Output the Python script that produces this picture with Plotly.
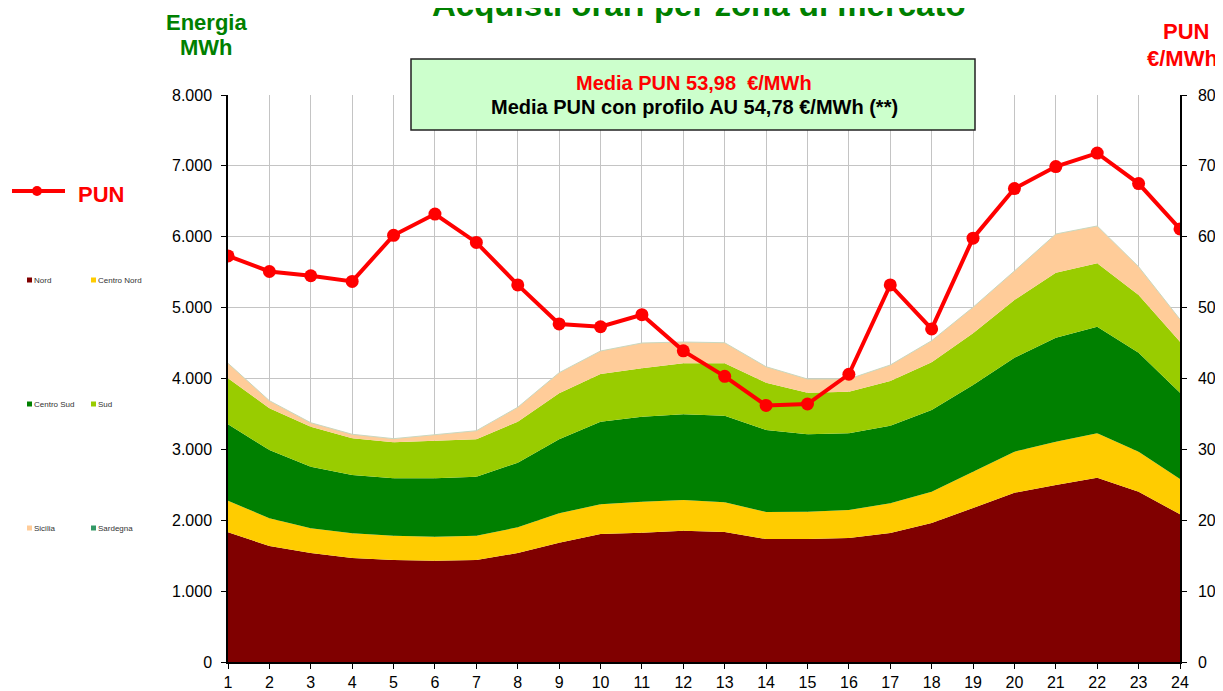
import plotly.graph_objects as go

hours = list(range(1, 25))
nord = [1830, 1637, 1538, 1467, 1439, 1429, 1439, 1538, 1683, 1806, 1824, 1853,
        1834, 1735, 1735, 1750, 1820, 1961, 2173, 2389, 2497, 2600, 2403, 2084]
centro_nord = [446, 391, 348, 349, 343, 339, 343, 362, 415, 419, 438, 433,
               419, 381, 386, 395, 419, 442, 512, 578, 611, 627, 564, 498]
centro_sud = [1078, 963, 870, 822, 810, 824, 832, 912, 1044, 1165, 1199, 1209,
              1222, 1157, 1092, 1082, 1095, 1153, 1223, 1326, 1468, 1504, 1397, 1218]
sud = [649, 589, 564, 518, 508, 530, 528, 578, 649, 673, 683, 719,
       739, 668, 587, 586, 631, 673, 730, 815, 917, 895, 814, 719]
sicilia = [212, 107, 56, 57, 51, 81, 121, 204, 291, 325, 357, 301,
           291, 225, 193, 180, 225, 304, 367, 409, 546, 526, 399, 316]
sardegna = [0] * 24
pun = [57.3, 55.1, 54.5, 53.7, 60.2, 63.2, 59.2, 53.2, 47.7, 47.3, 49.0, 43.9,
       40.3, 36.2, 36.4, 40.6, 53.2, 47.0, 59.8, 66.8, 69.9, 71.8, 67.5, 61.1]

zones = [("Nord", nord, "#800000"),
         ("Centro Nord", centro_nord, "#FFCC00"),
         ("Centro Sud", centro_sud, "#008000"),
         ("Sud", sud, "#99CC00"),
         ("Sicilia", sicilia, "#FFCC99"),
         ("Sardegna", sardegna, "#339966")]

OFF = 8  # page body offset
W, H = 1223 - OFF, 691 - OFF
# plot area in screen pixels
SL, SR, ST, SB = 228, 1180, 95, 662
L, R, T, B = SL - OFF, SR - OFF, ST - OFF, SB - OFF
FONT = "Liberation Sans, Arial, sans-serif"


def px(x):
    return (x - SL) / (SR - SL)


def py(y):
    return (SB - y) / (SB - ST)


fig = go.Figure()
for name, vals, col in zones:
    line_col = "#c8d8c0" if name == "Sardegna" else col
    fig.add_trace(go.Scatter(x=hours, y=vals, name=name, stackgroup="e",
                             mode="lines", fillcolor=col,
                             line=dict(color=line_col, width=1 if name == "Sardegna" else 0),
                             showlegend=False))
fig.add_trace(go.Scatter(x=hours, y=pun, name="PUN", yaxis="y2", mode="lines+markers",
                         line=dict(color="#FF0000", width=4),
                         marker=dict(color="#FF0000", size=13),
                         showlegend=False))

ann = []
shapes = []
ann.append(dict(text="<b>Acquisti orari per zona di mercato</b>", x=px(699), y=py(5),
                xanchor="center", yanchor="middle",
                font=dict(size=33, color="#008000", family=FONT)))
ann.append(dict(text="<b>Energia</b>", x=px(206), y=py(22), xanchor="center", yanchor="middle",
                font=dict(size=22, color="#008000", family=FONT)))
ann.append(dict(text="<b>MWh</b>", x=px(206), y=py(48), xanchor="center", yanchor="middle",
                font=dict(size=22, color="#008000", family=FONT)))
ann.append(dict(text="<b>PUN</b>", x=px(1186), y=py(31), xanchor="center", yanchor="middle",
                font=dict(size=22, color="#FF0000", family=FONT)))
ann.append(dict(text="<b>€/MWh</b>", x=px(1145), y=py(58), xanchor="left", yanchor="middle",
                font=dict(size=22, color="#FF0000", family=FONT)))
shapes.append(dict(type="rect", xref="paper", yref="paper", x0=px(411), x1=px(975),
                   y0=py(130), y1=py(59), fillcolor="#CCFFCC",
                   line=dict(color="#222222", width=1.5)))
ann.append(dict(text="<b>Media PUN 53,98  €/MWh</b>", x=px(694), y=py(83),
                xanchor="center", yanchor="middle",
                font=dict(size=20, color="#FF0000", family=FONT)))
ann.append(dict(text="<b>Media PUN con profilo AU 54,78 €/MWh (**)</b>", x=px(694), y=py(107),
                xanchor="center", yanchor="middle",
                font=dict(size=20, color="#000000", family=FONT)))
shapes.append(dict(type="line", xref="paper", yref="paper", x0=px(12), x1=px(65),
                   y0=py(191), y1=py(191), line=dict(color="#FF0000", width=4)))
shapes.append(dict(type="circle", xref="paper", yref="paper", x0=px(32), x1=px(42),
                   y0=py(196), y1=py(186), fillcolor="#FF0000", line=dict(color="#FF0000", width=0)))
ann.append(dict(text="<b>PUN</b>", x=px(76), y=py(194), xanchor="left", yanchor="middle",
                font=dict(size=22, color="#FF0000", family=FONT)))
pos = [(27, 280), (91, 280), (27, 404), (91, 404), (27, 528), (91, 528)]
for (name, vals, col), (lx, ly) in zip(zones, pos):
    shapes.append(dict(type="rect", xref="paper", yref="paper", x0=px(lx), x1=px(lx + 5),
                       y0=py(ly + 2.5), y1=py(ly - 2.5), fillcolor=col, line=dict(width=0)))
    ann.append(dict(text=name, x=px(lx + 5), y=py(ly), xanchor="left", yanchor="middle",
                    font=dict(size=8, color="#333333", family=FONT)))

for a in ann:
    a.update(xref="paper", yref="paper", showarrow=False)

grid = dict(showgrid=True, gridcolor="#C4C4C4", gridwidth=1)
fig.update_layout(
    width=W, height=H,
    margin=dict(l=L, r=W - R, t=T, b=H - B, pad=0, autoexpand=False),
    paper_bgcolor="white", plot_bgcolor="white",
    separators=",.",
    font=dict(family=FONT, size=16, color="#000000"),
    showlegend=False,
    annotations=ann, shapes=shapes,
    xaxis=dict(range=[1, 24], tickmode="array", tickvals=hours, ticks="outside", ticklen=5,
               tickcolor="#000", showline=True, linecolor="#000", linewidth=1.5,
               zeroline=False, tickfont=dict(size=16), automargin=False, **grid),
    yaxis=dict(range=[0, 8000], dtick=1000, tickformat=",.0f", ticks="outside", ticklen=5,
               tickcolor="#000", showline=True, linecolor="#000", linewidth=1.5,
               zeroline=False, tickfont=dict(size=16), ticklabelstandoff=6,
               automargin=False, **grid),
    yaxis2=dict(range=[0, 80], dtick=10, overlaying="y", side="right", ticks="outside",
                ticklen=5, tickcolor="#000", showline=True, linecolor="#000", linewidth=1.5,
                showgrid=False, zeroline=False, tickfont=dict(size=16), ticklabelstandoff=8,
                automargin=False),
)

fig.write_html("out.html")
